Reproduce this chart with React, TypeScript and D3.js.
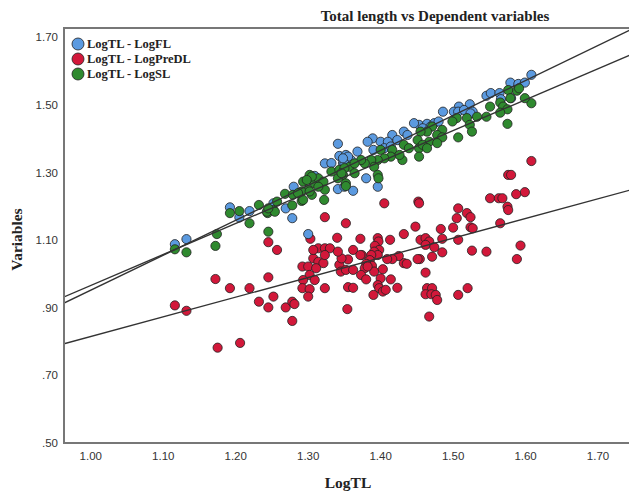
import React from 'react';
import * as d3 from 'd3';

// LogTL vs LogFL
const flPoints: [number, number][] = [
  [1.116, 1.088], [1.132, 1.103], [1.192, 1.197], [1.205, 1.167], [1.219, 1.186],
  [1.252, 1.209], [1.269, 1.194], [1.278, 1.165], [1.280, 1.258], [1.300, 1.118],
  [1.341, 1.385], [1.323, 1.327], [1.332, 1.328], [1.343, 1.349], [1.352, 1.352],
  [1.359, 1.337], [1.341, 1.251], [1.362, 1.246], [1.309, 1.290], [1.348, 1.328],
  [1.608, 1.589], [1.579, 1.566], [1.590, 1.562], [1.599, 1.566], [1.546, 1.527],
  [1.552, 1.535], [1.564, 1.535], [1.566, 1.517], [1.580, 1.520], [1.523, 1.502],
  [1.508, 1.495], [1.486, 1.480], [1.501, 1.480], [1.507, 1.480], [1.515, 1.485],
  [1.527, 1.480], [1.453, 1.441], [1.464, 1.444], [1.474, 1.446], [1.480, 1.451],
  [1.458, 1.431], [1.469, 1.436], [1.432, 1.421], [1.437, 1.411], [1.416, 1.411],
  [1.389, 1.401], [1.400, 1.391], [1.410, 1.391], [1.423, 1.396], [1.405, 1.372],
  [1.414, 1.377], [1.390, 1.367], [1.355, 1.347], [1.350, 1.327], [1.380, 1.283],
  [1.396, 1.258], [1.350, 1.258], [1.382, 1.391], [1.368, 1.362], [1.348, 1.342],
  [1.524, 1.475], [1.446, 1.446],
];

// LogTL vs LogPreDL
const preDlPoints: [number, number][] = [
  [1.116, 0.907], [1.132, 0.891], [1.172, 0.985], [1.192, 0.958], [1.219, 0.958],
  [1.175, 0.782], [1.206, 0.796], [1.245, 1.094], [1.257, 1.071], [1.245, 0.990],
  [1.252, 0.933], [1.232, 0.918], [1.245, 0.901], [1.269, 0.901], [1.278, 0.918],
  [1.281, 0.911], [1.278, 0.861], [1.303, 1.104], [1.323, 1.168], [1.352, 1.150],
  [1.340, 1.107], [1.362, 1.071], [1.292, 1.022], [1.300, 1.022], [1.307, 1.046],
  [1.314, 1.036], [1.321, 1.032], [1.311, 1.017], [1.302, 0.997], [1.309, 0.982],
  [1.293, 0.982], [1.292, 0.958], [1.302, 0.955], [1.300, 0.933], [1.323, 0.958],
  [1.343, 1.027], [1.345, 1.007], [1.352, 1.012], [1.362, 1.012], [1.355, 0.961],
  [1.362, 0.959], [1.354, 0.896], [1.608, 1.334], [1.576, 1.293], [1.580, 1.293],
  [1.599, 1.242], [1.587, 1.236], [1.551, 1.224], [1.563, 1.224], [1.568, 1.224],
  [1.575, 1.199], [1.576, 1.189], [1.565, 1.150], [1.593, 1.084], [1.588, 1.044],
  [1.546, 1.066], [1.526, 1.069], [1.520, 0.958], [1.507, 0.938], [1.507, 1.194],
  [1.519, 1.180], [1.524, 1.168], [1.505, 1.165], [1.524, 1.138], [1.527, 1.135],
  [1.500, 1.137], [1.483, 1.133], [1.507, 1.101], [1.485, 1.104], [1.485, 1.064],
  [1.452, 1.214], [1.453, 1.209], [1.405, 1.209], [1.448, 1.140], [1.432, 1.118],
  [1.413, 1.101], [1.455, 1.101], [1.462, 1.106], [1.467, 1.096], [1.462, 1.086],
  [1.474, 1.079], [1.471, 1.051], [1.454, 1.044], [1.451, 1.044], [1.462, 1.004],
  [1.464, 0.958], [1.471, 0.958], [1.462, 0.940], [1.470, 0.940], [1.476, 0.938],
  [1.478, 0.923], [1.467, 0.874], [1.423, 0.959], [1.414, 0.984], [1.432, 1.032],
  [1.436, 1.030], [1.425, 1.053], [1.416, 1.044], [1.409, 1.044], [1.396, 1.106],
  [1.397, 1.096], [1.392, 1.083], [1.398, 1.071], [1.391, 1.066], [1.396, 1.056],
  [1.387, 1.056], [1.385, 1.041], [1.388, 1.024], [1.391, 1.007], [1.380, 1.030],
  [1.378, 1.017], [1.373, 0.997], [1.380, 0.984], [1.374, 1.056], [1.403, 1.014],
  [1.400, 0.987], [1.396, 0.967], [1.398, 0.958], [1.403, 0.948], [1.407, 0.953],
  [1.390, 0.938], [1.355, 1.043], [1.346, 1.046], [1.372, 1.104], [1.314, 1.076],
  [1.323, 1.076], [1.330, 1.076], [1.307, 1.071], [1.323, 1.056], [1.341, 1.066],
  [1.372, 1.056], [1.382, 1.022],
];

// LogTL vs LogSL
const slPoints: [number, number][] = [
  [1.116, 1.073], [1.132, 1.064], [1.174, 1.118], [1.172, 1.083], [1.192, 1.180],
  [1.205, 1.186], [1.219, 1.150], [1.232, 1.204], [1.245, 1.125], [1.244, 1.180],
  [1.252, 1.189], [1.257, 1.214], [1.268, 1.237], [1.278, 1.203], [1.279, 1.234],
  [1.291, 1.216], [1.293, 1.273], [1.300, 1.249], [1.305, 1.234], [1.302, 1.293],
  [1.309, 1.268], [1.314, 1.283], [1.321, 1.273], [1.323, 1.249], [1.322, 1.219],
  [1.332, 1.303], [1.343, 1.308], [1.348, 1.293], [1.357, 1.317], [1.364, 1.298],
  [1.352, 1.268], [1.341, 1.283], [1.608, 1.505], [1.599, 1.520], [1.588, 1.542],
  [1.591, 1.549], [1.576, 1.544], [1.579, 1.520], [1.565, 1.507], [1.569, 1.495],
  [1.575, 1.487], [1.565, 1.477], [1.551, 1.495], [1.546, 1.465], [1.575, 1.444],
  [1.533, 1.465], [1.519, 1.461], [1.505, 1.461], [1.499, 1.451], [1.523, 1.441],
  [1.526, 1.421], [1.507, 1.404], [1.485, 1.426], [1.478, 1.411], [1.485, 1.404],
  [1.471, 1.436], [1.464, 1.421], [1.455, 1.421], [1.451, 1.396], [1.467, 1.391],
  [1.453, 1.372], [1.458, 1.382], [1.478, 1.387], [1.464, 1.372], [1.453, 1.347],
  [1.432, 1.382], [1.439, 1.372], [1.430, 1.337], [1.416, 1.367], [1.400, 1.367],
  [1.426, 1.352], [1.414, 1.347], [1.405, 1.342], [1.396, 1.337], [1.387, 1.337],
  [1.391, 1.317], [1.378, 1.327], [1.373, 1.337], [1.364, 1.327], [1.396, 1.293],
  [1.397, 1.283], [1.350, 1.313], [1.346, 1.298], [1.352, 1.260], [1.293, 1.219],
  [1.305, 1.288], [1.291, 1.244], [1.302, 1.244], [1.314, 1.258], [1.298, 1.278],
  [1.286, 1.239], [1.243, 1.184], [1.254, 1.184], [1.245, 1.194],
];

// fitted lines: variable = intercept + slope * LogTL
const fitIntercepts = [-0.082, 0.233, 0.050];
const fitSlopes = [1.034, 0.582, 0.916];

const seriesNames = ['LogTL - LogFL', 'LogTL - LogPreDL', 'LogTL - LogSL'];
const seriesColors = ['#5b9ae0', '#d2183a', '#2f8a2f'];

const xTicks = [1.0, 1.1, 1.2, 1.3, 1.4, 1.5, 1.6, 1.7];
const yTicks = [0.5, 0.7, 0.9, 1.1, 1.3, 1.5, 1.7];

const W = 629;
const H = 493;
const left = 64;
const top = 28;
const right = 660;
const bottom = 443;

const serif = '"Liberation Serif", "DejaVu Serif", serif';
const sans = '"Liberation Sans", Arial, sans-serif';

const App = () => {
  const x = d3.scaleLinear().domain([0.963, 1.7855]).range([left, right]);
  const y = d3.scaleLinear().domain([0.5, 1.7275]).range([bottom, top]);
  const fmt = (v: number) => d3.format('.2f')(v).replace(/^0/, '');

  const series = [flPoints, preDlPoints, slPoints];
  const drawOrder = [1, 0, 2];
  const [x0, x1] = x.domain();
  const line = d3.line<[number, number]>().x(d => x(d[0])).y(d => y(d[1]));

  return (
    <svg width={W} height={H} style={{ position: 'absolute', left: 0, top: 0, background: '#fff' }}>
      <defs>
        <clipPath id="plot">
          <rect x={left} y={top} width={right - left} height={bottom - top} />
        </clipPath>
      </defs>

      <text x={435} y={21} textAnchor="middle" fontFamily={serif} fontWeight="bold" fontSize={15} fill="#222">
        Total length vs Dependent variables
      </text>

      <g clipPath="url(#plot)">
        {drawOrder.map(si => (
          <g key={si}>
            {series[si].map((d, i) => (
              <circle key={i} cx={x(d[0])} cy={y(d[1])} r={4.6}
                fill={seriesColors[si]} stroke="#222" strokeOpacity={0.8} strokeWidth={1} />
            ))}
          </g>
        ))}
        {fitSlopes.map((b, i) => (
          <path key={i} d={line([[x0, fitIntercepts[i] + b * x0], [x1, fitIntercepts[i] + b * x1]]) || ''}
            fill="none" stroke="#333" strokeWidth={1.4} />
        ))}
      </g>

      {/* frame */}
      <path d={`M${right},${top}H${left}V${bottom}H${right}`} fill="none" stroke="#777" strokeWidth={2} />

      {yTicks.map(t => (
        <text key={t} x={left - 6} y={y(t)} dy="0.35em" textAnchor="end" fontFamily={sans} fontSize={11.5} fill="#333">
          {fmt(t)}
        </text>
      ))}
      {xTicks.map(t => (
        <text key={t} x={x(t)} y={bottom + 17} textAnchor="middle" fontFamily={sans} fontSize={11.5} fill="#333">
          {fmt(t)}
        </text>
      ))}

      <text x={348} y={488} textAnchor="middle" fontFamily={serif} fontWeight="bold" fontSize={15.5} fill="#222">LogTL</text>
      <text transform={`translate(22,${(top + bottom) / 2 + 4}) rotate(-90)`} textAnchor="middle"
        fontFamily={serif} fontWeight="bold" fontSize={15.5} fill="#222">Variables</text>

      {seriesNames.map((name, i) => (
        <g key={name} transform={`translate(78,${44 + i * 15})`}>
          <circle r={6} fill={seriesColors[i]} stroke="#222" strokeOpacity={0.8} strokeWidth={1} />
          <text x={9} dy="0.35em" fontFamily={serif} fontWeight="bold" fontSize={12.5} fill="#222">{name}</text>
        </g>
      ))}
    </svg>
  );
};

export default App;
